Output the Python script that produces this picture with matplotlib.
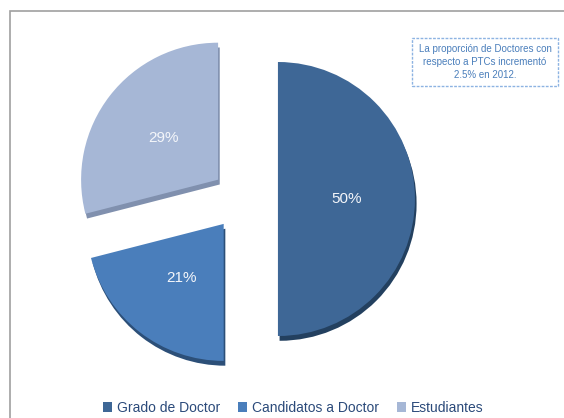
import matplotlib.pyplot as plt
from matplotlib.patches import Rectangle

plt.rcParams['font.family'] = ['Liberation Sans', 'DejaVu Sans']

# Data
categories = ['Grado de Doctor', 'Candidatos a Doctor', 'Estudiantes']
values = [50, 21, 29]
colors = ['#3E6796', '#4A7EBB', '#A6B7D6']
shade = ['#23405F', '#2C4F78', '#8090AE']
note = 'La proporción de Doctores con\nrespecto a PTCs incrementó\n2.5% en 2012.'

fig = plt.figure(figsize=(5.64, 4.18), dpi=100)
ax = fig.add_axes([0, 0, 1, 1])

R = 137.0  # radius in pixels
cx, cy = 243.0, 199.0  # pie centre in pixels (from top-left)

explode = [0.255, 0.23, 0.23]

# darker copy below for a bit of depth
ax.pie(values, colors=shade, startangle=90, counterclock=False,
       explode=explode, center=(0.012, -0.035), radius=1,
       wedgeprops=dict(linewidth=0))
wedges, texts, autotexts = ax.pie(
    values, colors=colors, startangle=90, counterclock=False,
    explode=explode, center=(0, 0), radius=1,
    autopct='%1.0f%%', pctdistance=0.5,
    wedgeprops=dict(linewidth=0),
    textprops=dict(color='#F4F6FA', fontsize=11))

ax.set_xlim(-cx / R, (564 - cx) / R)
ax.set_ylim(-(418 - cy) / R, cy / R)
ax.set_aspect('equal')
ax.axis('off')

# outer frame (top and left only visible)
fig.patches.append(Rectangle((10 / 564, -0.2), 1.2, 1.2 - 11 / 418,
                             transform=fig.transFigure, fill=False,
                             edgecolor='#A0A0A0', linewidth=1.2))

# note box
fig.text(485 / 564, 1 - 62 / 418, note, ha='center', va='center',
         fontsize=7, color='#4A7EBB', linespacing=1.35,
         bbox=dict(boxstyle='square,pad=0.65', facecolor='white',
                   edgecolor='#8DB3E2', linestyle=(0, (2, 1)), linewidth=1))

leg = fig.legend(wedges, categories, loc='center', ncol=3,
                 bbox_to_anchor=(0.52, 1 - 408 / 418), frameon=False,
                 fontsize=10, handlelength=0.65, handleheight=0.65,
                 handletextpad=0.35, columnspacing=1.3)
for t in leg.get_texts():
    t.set_color('#2B4A7A')

plt.savefig('out.png', dpi=100)
